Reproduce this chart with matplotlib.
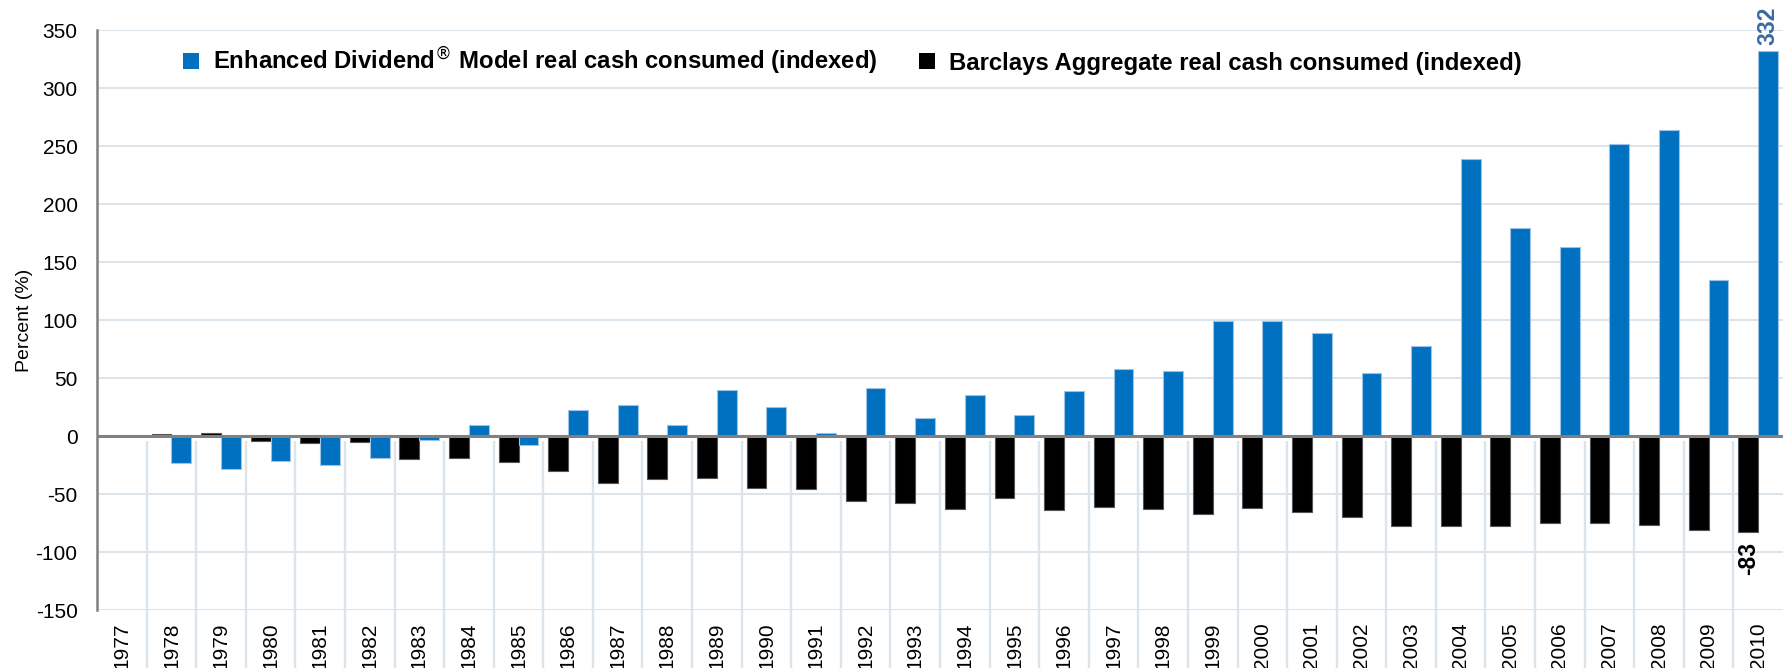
import numpy as np
import matplotlib
matplotlib.use("Agg")
import matplotlib.pyplot as plt
from matplotlib.patches import Patch

# data
years = [str(y) for y in range(1977, 2011)]
edm_cash = [0, -23, -28.7, -21.5, -25.3, -19, -3.1, 9.8, -7.5, 22.4,
            26.5, 9.8, 40, 25.3, 2.3, 41.4, 15.2, 35.1, 18.4, 38.5,
            57.8, 56.4, 98.9, 99.5, 88.5, 54.3, 77.6, 238.8, 179.6, 162.7,
            251.7, 263.5, 134.2, 332]
agg_cash = [0, 1.5, 2.3, -4.3, -6.3, -5.4, -19.8, -19, -22.4, -30.2,
            -40.8, -37, -36.5, -44.5, -46, -56.3, -57.4, -62.6, -53.4, -63.5,
            -61.2, -63.2, -66.9, -62, -65.2, -69.5, -77.3, -77.6, -77.3, -75,
            -74.7, -76.4, -81, -83]
yticks = list(range(-150, 351, 50))

narrow = ['Liberation Sans Narrow', 'Liberation Sans', 'DejaVu Sans']
bold = ['Liberation Sans', 'DejaVu Sans']
plt.rcParams['font.family'] = narrow

blue = '#0070c0'
grid_c = '#dbe3eb'

W, H = 1785, 668
fig = plt.figure(figsize=(W / 100, H / 100), dpi=100)
left, right, top, bot = 97, 1783, 30, 610
ax = fig.add_axes([left / W, 1 - bot / H, (right - left) / W, (bot - top) / H])

x = np.arange(len(years))
w = 0.4
ax.bar(x - w / 2, agg_cash, w, color='black', edgecolor='#555555', linewidth=0.8, zorder=3)
ax.bar(x + w / 2, edm_cash, w, color=blue, edgecolor='#9cc3e6', linewidth=0.8, zorder=3)

ax.set_xlim(-0.5, len(years) - 0.5)
ax.set_ylim(-150, 350)
ax.set_yticks(yticks)
ax.set_yticklabels([str(v) for v in yticks])
ax.tick_params(axis='y', length=0, pad=14, labelsize=15)
ax.set_xticks(x)
ax.set_xticklabels(years, rotation=90, va='top', ha='center')
ax.tick_params(axis='x', length=0, pad=9, labelsize=15)

for v in yticks:
    if v != 0:
        ax.axhline(v, color=grid_c, lw=1.4, zorder=1)
ax.axhline(0, color='#808080', lw=2.2, zorder=4)
# category separators below zero, running into the label area
ax.vlines(x[1:] - 0.5, -4, -200, color=grid_c, lw=1.7, zorder=1, clip_on=False)

for s in ['top', 'right', 'bottom']:
    ax.spines[s].set_visible(False)
ax.spines['left'].set_color('#808080')
ax.spines['left'].set_linewidth(1.8)
ax.spines['left'].set_zorder(5)

ax.set_ylabel('Percent (%)', fontsize=14)
ax.yaxis.set_label_coords(-0.038, 0.5)

ax.text(x[-1] + w / 2, edm_cash[-1] + 5, '332', rotation=90, ha='center', va='bottom',
        fontsize=16.5, fontweight='bold', color='#3a6aa3', family=bold)
ax.text(x[-1] - w / 2, agg_cash[-1] - 8, '-83', rotation=90, ha='center', va='top',
        fontsize=16.5, fontweight='bold', color='black', family=bold)

handles = [Patch(facecolor=blue, edgecolor='none'), Patch(facecolor='black', edgecolor='none')]
labels = ['Enhanced Dividend$^{\u00ae}$ Model real cash consumed (indexed)',
          'Barclays Aggregate real cash consumed (indexed)']
leg = ax.legend(handles, labels, ncol=2, loc='center left',
                bbox_to_anchor=((183 - left) / (right - left), (bot - 61) / (bot - top)),
                frameon=False, borderpad=0, borderaxespad=0,
                handlelength=0.65, handleheight=0.65, handletextpad=0.6, columnspacing=1.75,
                prop={'family': bold, 'weight': 'bold', 'size': 17.2})

fig.savefig('out.png', dpi=100)
